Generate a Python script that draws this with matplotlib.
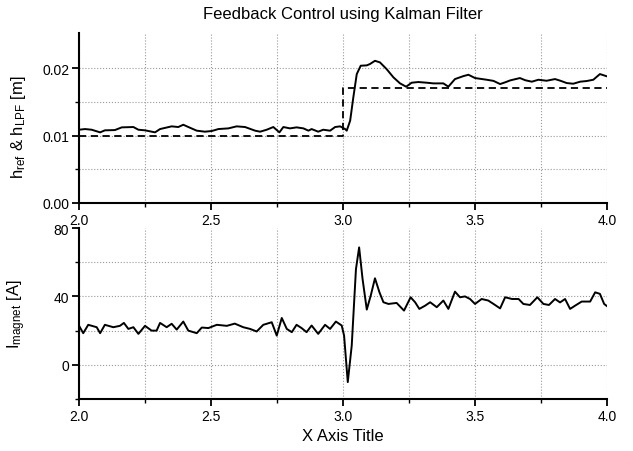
import matplotlib
matplotlib.use("Agg")
import matplotlib.pyplot as plt
from matplotlib.ticker import FixedLocator

# height (solid) and reference step (dashed)
t_h = [2.000, 2.023, 2.048, 2.080, 2.098, 2.136, 2.162, 2.206, 2.225, 2.250,
       2.288, 2.307, 2.351, 2.376, 2.395, 2.420, 2.446, 2.477, 2.503, 2.528,
       2.566, 2.597, 2.629, 2.650, 2.667, 2.686, 2.711, 2.736, 2.759, 2.774,
       2.799, 2.824, 2.850, 2.869, 2.881, 2.906, 2.925, 2.951, 2.970, 2.989,
       3.008, 3.014, 3.027, 3.039, 3.052, 3.067, 3.090, 3.102, 3.121, 3.140,
       3.165, 3.191, 3.216, 3.239, 3.260, 3.285, 3.317, 3.342, 3.380, 3.399,
       3.424, 3.456, 3.475, 3.500, 3.544, 3.570, 3.595, 3.615, 3.633, 3.670,
       3.690, 3.715, 3.740, 3.771, 3.803, 3.825, 3.847, 3.872, 3.898, 3.923,
       3.948, 3.973, 4.000]
h = [0.01086, 0.01096, 0.01086, 0.01047, 0.01077, 0.01081, 0.01121, 0.01126, 0.01086, 0.01077,
     0.01047, 0.01096, 0.01136, 0.01126, 0.01160, 0.01116, 0.01072, 0.01057, 0.01067, 0.01096,
     0.01106, 0.01136, 0.01126, 0.01096, 0.01072, 0.01057, 0.01086, 0.01126, 0.01047, 0.01126,
     0.01106, 0.01121, 0.01106, 0.01072, 0.01096, 0.01057, 0.01086, 0.01072, 0.01126, 0.01136,
     0.01096, 0.01072, 0.01220, 0.01565, 0.01910, 0.02035, 0.02040, 0.02060, 0.02108, 0.02084,
     0.01985, 0.01862, 0.01773, 0.01724, 0.01783, 0.01793, 0.01783, 0.01773, 0.01773, 0.01724,
     0.01837, 0.01881, 0.01901, 0.01852, 0.01827, 0.01810, 0.01763, 0.01790, 0.01817, 0.01852,
     0.01820, 0.01798, 0.01827, 0.01812, 0.01837, 0.01810, 0.01778, 0.01768, 0.01798, 0.01808,
     0.01827, 0.01911, 0.01877]

t_ref = [2.0, 3.0, 4.0]
h_ref = [0.010, 0.017, 0.017]

# magnet current
t_i = [2.000, 2.016, 2.035, 2.067, 2.080, 2.098, 2.130, 2.155, 2.170, 2.187,
       2.206, 2.225, 2.250, 2.275, 2.294, 2.307, 2.332, 2.351, 2.370, 2.395,
       2.414, 2.446, 2.465, 2.490, 2.522, 2.560, 2.590, 2.622, 2.648, 2.673,
       2.698, 2.730, 2.749, 2.768, 2.787, 2.806, 2.824, 2.843, 2.862, 2.881,
       2.906, 2.932, 2.951, 2.973, 2.995, 3.004, 3.018, 3.033, 3.049, 3.061,
       3.074, 3.090, 3.105, 3.121, 3.138, 3.153, 3.172, 3.203, 3.231, 3.256,
       3.273, 3.289, 3.311, 3.330, 3.355, 3.380, 3.399, 3.424, 3.443, 3.462,
       3.481, 3.500, 3.525, 3.550, 3.570, 3.595, 3.614, 3.640, 3.665, 3.683,
       3.708, 3.736, 3.759, 3.780, 3.803, 3.822, 3.841, 3.860, 3.879, 3.904,
       3.936, 3.955, 3.973, 3.989, 4.000]
current = [22.9, 18.5, 23.4, 22.0, 18.5, 23.4, 22.0, 22.8, 24.5, 21.0,
           22.0, 18.1, 22.8, 20.0, 20.0, 24.5, 22.0, 24.0, 20.6, 25.3,
           20.0, 18.5, 21.8, 21.5, 23.4, 22.8, 24.1, 22.0, 21.0, 19.5,
           23.4, 24.9, 17.1, 27.4, 21.0, 19.1, 23.4, 21.5, 19.1, 23.0,
           18.1, 23.4, 21.0, 25.3, 23.0, 17.1, -10.1, 11.3, 56.0, 68.7,
           50.2, 32.3, 40.5, 50.6, 42.4, 36.6, 35.6, 36.2, 31.7, 39.5,
           36.6, 32.7, 34.6, 36.6, 33.7, 37.6, 32.7, 42.8, 39.5, 40.0,
           38.5, 35.6, 38.5, 37.6, 35.6, 33.0, 39.5, 38.5, 38.5, 35.6,
           35.0, 39.5, 35.6, 35.0, 38.5, 36.5, 38.5, 32.7, 34.6, 37.0,
           37.0, 42.4, 41.5, 35.6, 34.3]

plt.rcParams["font.family"] = ["Liberation Sans", "DejaVu Sans"]
plt.rcParams["mathtext.fontset"] = "custom"
plt.rcParams["mathtext.rm"] = "Liberation Sans"
plt.rcParams["mathtext.it"] = "Liberation Sans"

fig = plt.figure(figsize=(6.33, 4.52), dpi=100)
ax1 = fig.add_axes([0.1248, 0.5487, 0.8342, 0.3761])
ax2 = fig.add_axes([0.1248, 0.1150, 0.8342, 0.3783])


def style_axes(ax):
    for side in ("top", "right"):
        ax.spines[side].set_visible(False)
    for side in ("left", "bottom"):
        ax.spines[side].set_linewidth(1.5)
    ax.set_xlim(2.0, 4.0)
    ax.xaxis.set_major_locator(FixedLocator([2.0, 2.5, 3.0, 3.5, 4.0]))
    ax.xaxis.set_minor_locator(FixedLocator([2.25, 2.75, 3.25, 3.75]))
    ax.tick_params(which="major", direction="out", length=5, width=1.3, labelsize=10, pad=2)
    ax.tick_params(which="minor", direction="out", length=3, width=1.0)
    ax.grid(True, which="both", color="#9a9a9a", linestyle=":", linewidth=0.8)
    ax.set_axisbelow(True)


ax1.plot(t_h, h, color="black", linewidth=1.4, zorder=3)
ax1.plot(t_ref, h_ref, color="black", linewidth=1.3, linestyle=(0, (4, 2.5)),
         drawstyle="steps-post", zorder=3)
style_axes(ax1)
ax1.set_ylim(0.0, 0.0252)
ax1.yaxis.set_major_locator(FixedLocator([0.00, 0.01, 0.02]))
ax1.yaxis.set_minor_locator(FixedLocator([0.005, 0.015]))
ax1.set_yticklabels(["0.00", "0.01", "0.02"])
ax1.set_ylabel(r"h$_{\rm ref}$ & h$_{\rm LPF}$ [m]", fontsize=12)
ax1.yaxis.set_label_coords(-0.097, 0.45)
ax1.set_title("Feedback Control using Kalman Filter", fontsize=12, pad=11)

ax2.plot(t_i, current, color="black", linewidth=1.4, zorder=3)
style_axes(ax2)
ax2.set_ylim(-20, 80)
ax2.yaxis.set_major_locator(FixedLocator([0, 40, 80]))
ax2.yaxis.set_minor_locator(FixedLocator([-20, 20, 60]))
ax2.yaxis.get_major_ticks()[-1].gridline.set_visible(False)
ax2.yaxis.get_minor_ticks()[0].gridline.set_visible(False)
ax2.set_ylabel(r"I$_{\rm magnet}$ [A]", fontsize=12)
ax2.yaxis.set_label_coords(-0.097, 0.5)
ax2.set_xlabel("X Axis Title", fontsize=12)

fig.savefig("out.png", dpi=100)
